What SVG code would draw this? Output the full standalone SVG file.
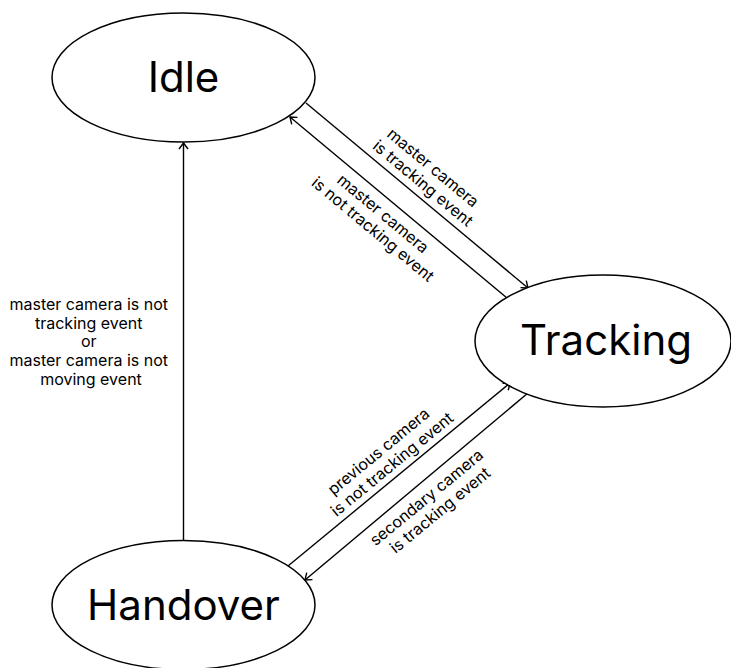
<svg xmlns="http://www.w3.org/2000/svg" width="731" height="668" viewBox="0 0 731 668">
  <style>
    .state { fill: #ffffff; stroke: #000000; stroke-width: 1.5; }
    .state-label { font-family: Inter, "Liberation Sans", sans-serif; font-size: 42px; fill: #000000; text-anchor: middle; }
    .edge { fill: none; stroke: #000000; stroke-width: 1.4; marker-end: url(#arrow); }
    .edge-label { font-family: Inter, "Liberation Sans", sans-serif; font-size: 16px; fill: #000000; text-anchor: middle; }
  </style>
  <defs>
    <marker id="arrow" markerUnits="userSpaceOnUse" markerWidth="16" markerHeight="16" viewBox="-8 -8 16 16" refX="0" refY="0" orient="auto">
      <path d="M -6 -4.5 L 0 0 L -6 4.5" fill="none" stroke="#000000" stroke-width="1.4"/>
    </marker>
  </defs>
  <rect width="731" height="668" fill="#ffffff"/>

  <!-- transitions -->
  <g id="connectors">
    <line class="edge" x1="183.5" y1="540" x2="183.5" y2="143"/>
    <line class="edge" x1="306" y1="103" x2="528" y2="288"/>
    <line class="edge" x1="507" y1="298" x2="290" y2="117"/>
    <line class="edge" x1="288" y1="566" x2="510" y2="383"/>
    <line class="edge" x1="528" y1="393" x2="305" y2="580"/>

    <text class="edge-label">
      <tspan x="91" y="310">master camera is not</tspan>
      <tspan x="91" y="328.7">tracking event</tspan>
      <tspan x="91" y="347.4">or</tspan>
      <tspan x="91" y="366.1">master camera is not</tspan>
      <tspan x="91" y="384.8">moving event</tspan>
    </text>
    <text class="edge-label" transform="translate(429 176) rotate(39.8)">
      <tspan x="0" y="-3.5">master camera</tspan>
      <tspan x="0" y="15">is tracking event</tspan>
    </text>
    <text class="edge-label" transform="translate(379 222) rotate(39.8)">
      <tspan x="0" y="-3.5">master camera</tspan>
      <tspan x="0" y="15">is not tracking event</tspan>
    </text>
    <text class="edge-label" transform="translate(386 457) rotate(-39.5)">
      <tspan x="0" y="-3.5">previous camera</tspan>
      <tspan x="0" y="15">is not tracking event</tspan>
    </text>
    <text class="edge-label" transform="translate(434 503) rotate(-39.5)">
      <tspan x="0" y="-3.5">secondary camera</tspan>
      <tspan x="0" y="15">is tracking event</tspan>
    </text>
  </g>

  <g id="idle">
    <ellipse class="state" cx="183.5" cy="77.5" rx="131.5" ry="64.5"/>
    <text class="state-label" x="183.5" y="92">Idle</text>
  </g>

  <g id="tracking">
    <ellipse class="state" cx="603" cy="341" rx="128" ry="66"/>
    <text class="state-label" x="606" y="355">Tracking</text>
  </g>

  <g id="handover">
    <ellipse class="state" cx="183.5" cy="605" rx="131.5" ry="64.5"/>
    <text class="state-label" x="183.5" y="620">Handover</text>
  </g>
</svg>
